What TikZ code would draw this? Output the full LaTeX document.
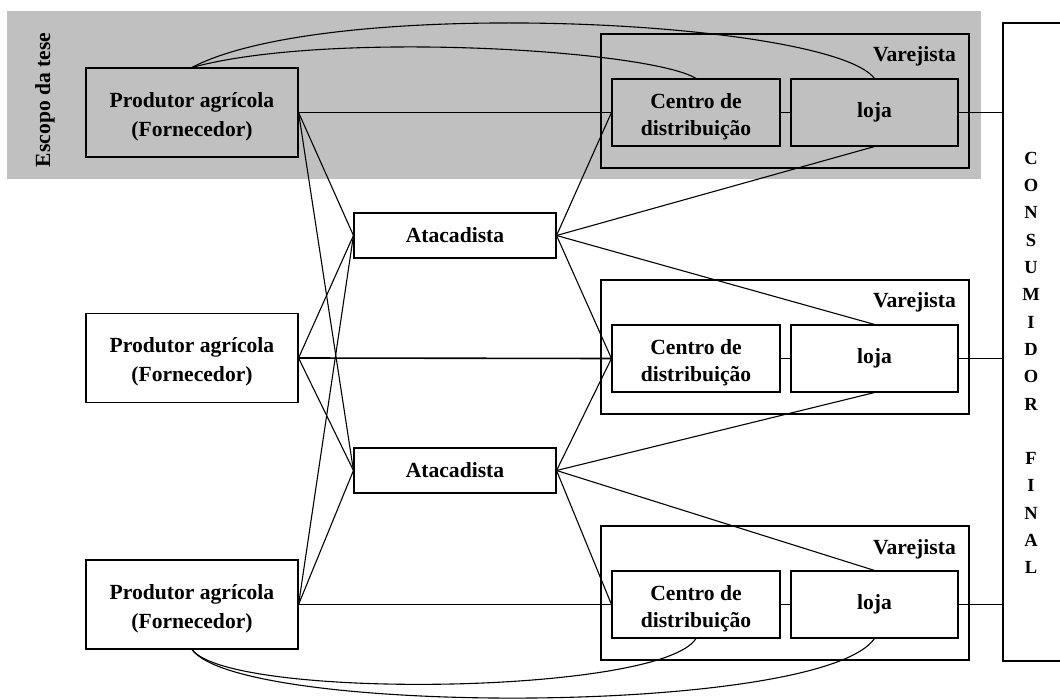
\documentclass[tikz,border=0pt]{standalone}
\usepackage{fontspec}
\setmainfont{Liberation Serif}
\definecolor{band}{HTML}{C0C0C0}
\newcommand{\tstrut}{\rule{0pt}{23pt}}
\begin{document}
\begin{tikzpicture}[x=1pt,y=-1pt,
  box/.style={draw, line width=1.1pt, inner sep=0pt, align=center,
    font=\fontsize{21.6}{29}\selectfont\bfseries},
  prod/.style={box, minimum width=212pt, minimum height=89pt},
  atac/.style={box, minimum width=202pt, minimum height=45pt},
  varej/.style={draw, line width=1.1pt, inner sep=0pt, minimum width=368pt, minimum height=134pt},
  cdbox/.style={box, minimum width=168pt, minimum height=67pt,
    font=\fontsize{21.6}{27}\selectfont\bfseries},
  lojabox/.style={box, minimum width=167pt, minimum height=67pt},
  lab/.style={inner sep=0pt, font=\fontsize{21.6}{29}\selectfont\bfseries},
  conn/.style={line width=1.1pt},
  thick conn/.style={line width=1.6pt}]
\useasboundingbox (0,0) rectangle (1060,700);
\fill[band] (7,11) rectangle (981,179);
\node[lab, rotate=90] (esc) at (45,100) {Escopo da tese};
% producers
\node[prod] (p1) at (192,112.5) {\tstrut Produtor agrícola\\(Fornecedor)};
\node[prod] (p2) at (192,358) {\tstrut Produtor agrícola\\(Fornecedor)};
\node[prod] (p3) at (192,604.5) {\tstrut Produtor agrícola\\(Fornecedor)};
% wholesalers
\node[atac] (a1) at (455,235.5) {Atacadista};
\node[atac] (a2) at (455,470.5) {Atacadista};
% retailers
\node[varej] (v1) at (785,101) {};
\node[varej] (v2) at (785,347) {};
\node[varej] (v3) at (785,593) {};
\node[lab, anchor=base east] (vl1) at (956,62) {Varejista};
\node[lab, anchor=base east] (vl2) at (956,308) {Varejista};
\node[lab, anchor=base east] (vl3) at (956,554) {Varejista};
\node[cdbox] (cd1) at (696,112.5) {\tstrut Centro de\\distribuição};
\node[cdbox] (cd2) at (696,358.5) {\tstrut Centro de\\distribuição};
\node[cdbox] (cd3) at (696,604.5) {\tstrut Centro de\\distribuição};
\node[lojabox] (l1) at (874.5,112.5) {loja};
\node[lojabox] (l2) at (874.5,358.5) {loja};
\node[lojabox] (l3) at (874.5,604.5) {loja};
% consumer
\node[draw, line width=1.1pt, inner sep=0pt, minimum width=62pt, minimum height=638pt] (cons) at (1034,342) {};
\node[inner sep=0pt, align=center, font=\fontsize{18.5}{27.3}\selectfont\bfseries] (ctext) at (1031,363)
  {C\\O\\N\\S\\U\\M\\I\\D\\O\\R\\[27.3pt]F\\I\\N\\A\\L};
% straight connectors
\draw[conn] (p1.east) -- (cd1.west);
\draw[conn] (cd1.east) -- (l1.west);
\draw[conn] (cd2.east) -- (l2.west);
\draw[conn] (cd3.east) -- (l3.west);
\draw[thick conn] (l1.east) -- (l1.east -| cons.west);
\draw[thick conn] (l2.east) -- (l2.east -| cons.west);
\draw[thick conn] (l3.east) -- (l3.east -| cons.west);
\draw[conn] (p1.east) -- (a1.west);
\draw[conn] (p1.east) -- (a2.west);
\draw[conn] (p2.east) -- (a1.west);
\draw[conn] (p2.east) -- (a2.west);
\draw[thick conn] (p2.east) -- (cd2.west);
\draw[conn] (p3.east) -- (a1.west);
\draw[conn] (p3.east) -- (a2.west);
\draw[conn] (p3.east) -- (cd3.west);
\draw[conn] (a1.east) -- (cd1.west);
\draw[conn] (a1.east) -- (l1.south);
\draw[conn] (a1.east) -- (l2.north);
\draw[conn] (a1.east) -- (cd2.west);
\draw[conn] (a2.east) -- (cd2.west);
\draw[conn] (a2.east) -- (l2.south);
\draw[conn] (a2.east) -- (l3.north);
\draw[conn] (a2.east) -- (cd3.west);
% curves
\draw[conn] (p1.north) .. controls (330,-5) and (830,20) .. (l1.north);
\draw[conn] (p1.north) .. controls (330,30) and (650,50) .. (cd1.north);
\draw[conn] (p3.south) .. controls (230,700) and (660,695) .. (cd3.south);
\draw[conn] (p3.south) .. controls (240,716) and (820,716) .. (l3.south);
\end{tikzpicture}
\end{document}
